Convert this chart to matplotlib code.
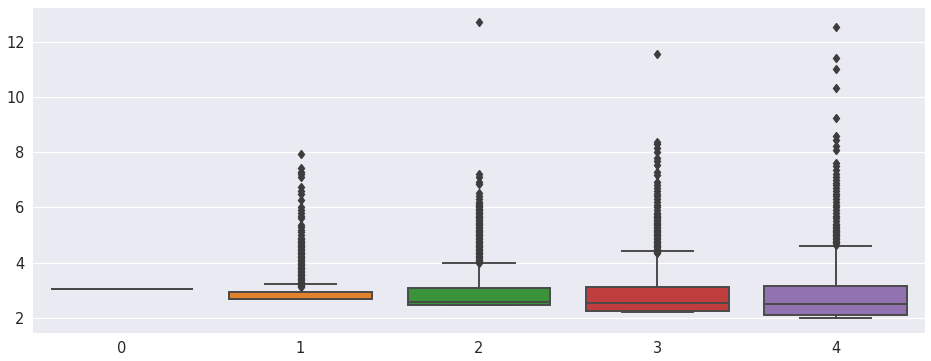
import matplotlib
matplotlib.use("Agg")
import matplotlib.pyplot as plt

categories = ["0", "1", "2", "3", "4"]
medians = [3.04, 2.69, 2.55, 2.53, 2.49]
q1s = [3.04, 2.69, 2.45, 2.23, 2.08]
q3s = [3.04, 2.93, 3.09, 3.11, 3.15]
whis_lo = [3.04, 2.69, 2.45, 2.20, 1.99]
whis_hi = [3.04, 3.22, 3.99, 4.42, 4.60]

fliers_0 = []
fliers_1 = [3.11, 3.15, 3.2, 3.25, 3.3, 3.35, 3.4, 3.45, 3.5, 3.55, 3.6, 3.65,
            3.7, 3.75, 3.8, 3.85, 3.9, 3.95, 4.0, 4.05, 4.1, 4.15, 4.2, 4.25,
            4.3, 4.35, 4.4, 4.45, 4.5, 4.55, 4.6, 4.65, 4.7, 4.75, 4.8, 4.85,
            4.9, 5.0, 5.1, 5.2, 5.3, 5.36, 5.6, 5.7, 5.8, 5.9, 6.0, 6.27, 6.5,
            6.6, 6.75, 7.1, 7.2, 7.3, 7.42, 7.96]
fliers_2 = [4.0, 4.05, 4.1, 4.15, 4.2, 4.25, 4.3, 4.35, 4.4, 4.45, 4.5, 4.55,
            4.6, 4.65, 4.7, 4.75, 4.8, 4.85, 4.9, 4.95, 5.0, 5.05, 5.1, 5.15,
            5.2, 5.25, 5.3, 5.35, 5.4, 5.45, 5.5, 5.55, 5.6, 5.65, 5.7, 5.75,
            5.8, 5.85, 5.9, 5.95, 6.0, 6.05, 6.1, 6.15, 6.2, 6.3, 6.4, 6.51,
            6.85, 6.92, 7.1, 7.2, 12.75]
fliers_3 = [4.33, 4.4, 4.45, 4.5, 4.55, 4.6, 4.65, 4.7, 4.75, 4.8, 4.85, 4.9,
            4.95, 5.0, 5.05, 5.1, 5.15, 5.2, 5.25, 5.3, 5.35, 5.4, 5.45, 5.5,
            5.55, 5.6, 5.65, 5.7, 5.75, 5.8, 5.9, 6.0, 6.1, 6.2, 6.3, 6.4,
            6.5, 6.6, 6.7, 6.8, 6.93, 7.17, 7.3, 7.55, 7.7, 7.8, 8.0, 8.15,
            8.3, 8.38, 11.57]
fliers_4 = [4.63, 4.7, 4.75, 4.8, 4.85, 4.9, 4.95, 5.0, 5.05, 5.1, 5.15, 5.2,
            5.25, 5.3, 5.35, 5.4, 5.5, 5.6, 5.7, 5.8, 5.9, 6.0, 6.1, 6.2,
            6.3, 6.4, 6.5, 6.6, 6.7, 6.8, 6.9, 7.0, 7.1, 7.2, 7.35, 7.5,
            7.62, 8.08, 8.25, 8.45, 8.6, 9.26, 10.33, 11.03, 11.42, 12.57]
fliers = [fliers_0, fliers_1, fliers_2, fliers_3, fliers_4]

box_colors = ["#3274a1", "#e1812c", "#3a923a", "#c03d3e", "#9372b2"]
line_color = "#4a4a4a"
flier_color = "#3d3d3d"

plt.rcParams["font.family"] = ["DejaVu Sans"]
fig = plt.figure(figsize=(9.31, 3.61), dpi=100)
ax = fig.add_axes([0.0354, 0.0776, 0.958, 0.9004])
ax.set_facecolor("#eaeaf2")
ax.grid(True, axis="y", color="white", linewidth=0.9)
ax.set_axisbelow(True)
for s in ax.spines.values():
    s.set_visible(False)

stats = []
for i in range(len(categories)):
    stats.append(dict(med=medians[i], q1=q1s[i], q3=q3s[i],
                      whislo=whis_lo[i], whishi=whis_hi[i], fliers=fliers[i]))

bp = ax.bxp(stats, positions=list(range(len(categories))), widths=0.8,
            patch_artist=True, showfliers=True,
            boxprops=dict(edgecolor=line_color, linewidth=1.4),
            medianprops=dict(color=line_color, linewidth=1.4),
            whiskerprops=dict(color=line_color, linewidth=1.4),
            capprops=dict(color=line_color, linewidth=1.4),
            flierprops=dict(marker="d", markersize=4.5, markerfacecolor=flier_color,
                            markeredgecolor=flier_color, linestyle="none"))
for patch, c in zip(bp["boxes"], box_colors):
    patch.set_facecolor(c)

ax.set_xlim(-0.5, 4.5)
ax.set_ylim(1.44, 13.25)
ax.set_yticks([2, 4, 6, 8, 10, 12])
ax.set_xticks(range(len(categories)))
ax.set_xticklabels(categories)
ax.tick_params(axis="both", length=0, labelsize=10.5, colors="#262626", pad=6)

fig.savefig("out.png", dpi=100)
